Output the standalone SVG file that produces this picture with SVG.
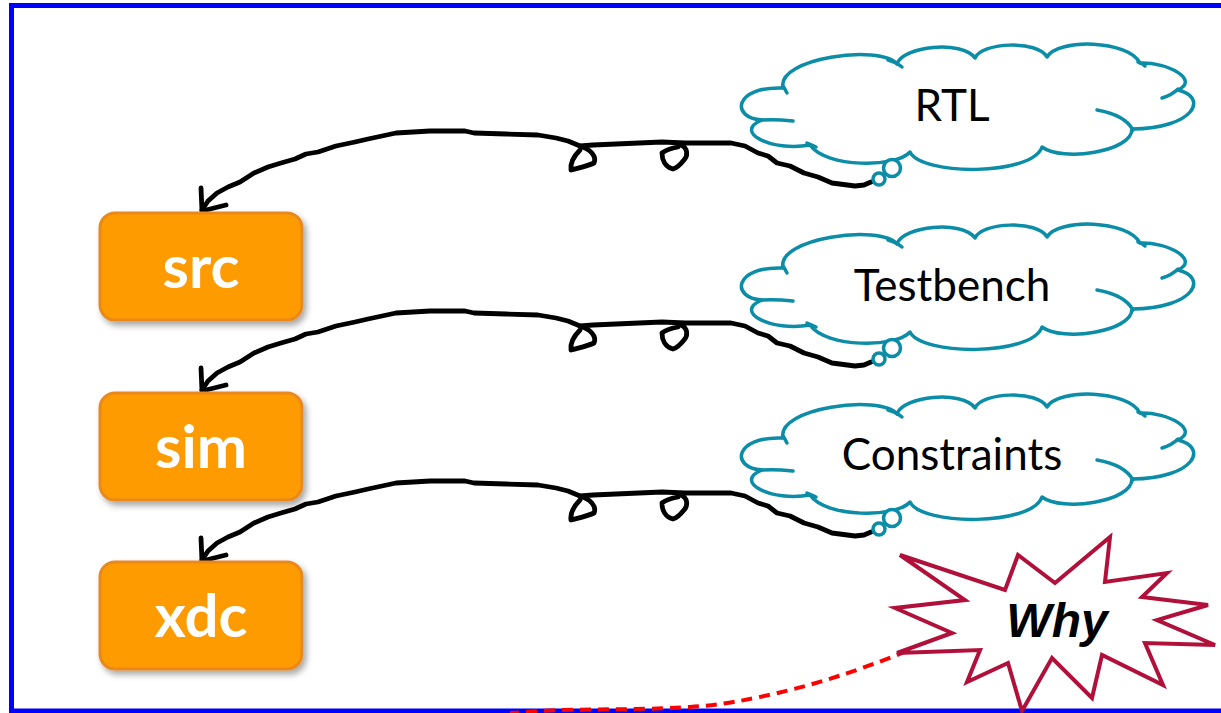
<svg xmlns="http://www.w3.org/2000/svg" xmlns:xlink="http://www.w3.org/1999/xlink" width="1221" height="713" viewBox="0 0 1221 713">
  <style>
    .frame { fill: none; stroke: #0000FF; stroke-width: 5; }
    .box { fill: #FD9B00; stroke: #E9891F; stroke-width: 3; }
    .boxlabel { font-family: Lato, "Open Sans", sans-serif; font-weight: bold; font-size: 60px; fill: #FFFFFF; text-anchor: middle; }
    .cloud { fill: #FFFFFF; stroke: #0B8CA7; stroke-width: 3.5; stroke-linejoin: round; stroke-linecap: round; }
    .cloudline { fill: none; stroke: #0B8CA7; stroke-width: 3.5; stroke-linecap: round; }
    .cloudlabel { font-family: Lato, "Open Sans", sans-serif; font-size: 44px; fill: #000000; text-anchor: middle; }
    .wire { fill: none; stroke: #000000; stroke-width: 4.8; stroke-linejoin: round; stroke-linecap: round; }
    .burst { fill: #FFFFFF; stroke: #B0103A; stroke-width: 4; stroke-linejoin: miter; }
    .burstlabel { font-family: "Liberation Sans", Arial, sans-serif; font-weight: bold; font-style: italic; font-size: 48px; fill: #000000; text-anchor: middle; }
    .dashed { fill: none; stroke: #FF0000; stroke-width: 4; stroke-dasharray: 11 7; }
  </style>
  <defs>
    <filter id="shadow" x="-10%" y="-10%" width="125%" height="130%">
      <feDropShadow dx="3" dy="4" stdDeviation="3" flood-color="#000000" flood-opacity="0.35"/>
    </filter>
    <!-- thought cloud with its two small bubbles -->
    <g id="cloudShape">
      <path class="cloud" d="M783,88 C776,58 880,44 897,64 C903,46 962,40 975,58 C982,42 1038,40 1047,57 C1058,38 1128,40 1140,63 C1168,62 1200,80 1178,90 C1208,97 1196,128 1132,129 C1132,152 1062,162 1042,147 C1032,176 922,176 910,152 C896,168 826,168 810,145 C772,152 732,132 762,120 C730,118 734,86 783,88 Z"/>
      <path class="cloudline" d="M1097,110 Q1125,115 1133,130"/>
      <path class="cloudline" d="M1162,98 Q1172,95 1178,89"/>
      <path class="cloudline" d="M793,121 Q775,119 762,120"/>
      <path class="cloudline" d="M783,86 Q785,89 787,93"/>
      <path class="cloudline" d="M888,60 Q896,62 902,67"/>
      <path class="cloudline" d="M1138,62 Q1142,63 1145,66"/>
      <path class="cloudline" d="M807,143 Q812,145 816,147"/>
      <circle class="cloud" cx="892" cy="168" r="8.5"/>
      <circle class="cloud" cx="879" cy="179" r="6"/>
    </g>
    <!-- hand-drawn wire with two loops and an open arrowhead -->
    <g id="wire">
      <path class="wire" d="M871,182 L864,185 L855,186 L832,183 L818,177 L804,173 L790,166 L777,163 L768,156 L758,153 L745,146 L731,143 L708,143 L685,143 L662,142 L639,143 L616,144 L593,145 L580,146 L568,141 L556,138 L538,135 L506,134 L474,133 L465,131 L430,131 L396,133 L382,136 L368,139 L355,142 L336,146 L318,152 L306,154 L295,159 L281,163 L268,167 L254,173 L240,182 L228,187 L217,193 L208,201 L202,210"/>
      <path class="wire" d="M580,146 C590,149 597,156 594,163 C588,166 578,168 571,170 C570,163 574,156 580,150"/>
      <path class="wire" d="M681,145 C688,148 688,156 684,160 C680,165 677,168 673,169 C665,167 662,160 662,153 C666,150 672,148 678,147"/>
      <path class="wire" d="M201,188 L202,211 L226,205"/>
    </g>
  </defs>

  <rect width="1221" height="713" fill="#FFFFFF"/>
  <rect class="frame" x="11.5" y="5.5" width="1225" height="705.5"/>

  <g id="connectors">
    <use href="#wire"/>
    <use href="#wire" transform="translate(0,180)"/>
    <use href="#wire" transform="translate(0,350)"/>
    <path class="dashed" d="M907,651 C870,666 830,680 790,690 C750,700 720,705 690,707 C640,710 600,709 560,710 C540,711 525,712 510,713"/>
  </g>

  <g id="src">
    <rect class="box" x="100" y="213" width="202" height="107" rx="15" filter="url(#shadow)"/>
    <text class="boxlabel" x="201" y="288">src</text>
  </g>
  <g id="sim">
    <rect class="box" x="100" y="393" width="202" height="107" rx="15" filter="url(#shadow)"/>
    <text class="boxlabel" x="201" y="468">sim</text>
  </g>
  <g id="xdc">
    <rect class="box" x="100" y="562" width="202" height="107" rx="15" filter="url(#shadow)"/>
    <text class="boxlabel" x="201" y="637">xdc</text>
  </g>

  <g id="rtl">
    <use href="#cloudShape"/>
    <text class="cloudlabel" x="952" y="121">RTL</text>
  </g>
  <g id="testbench">
    <use href="#cloudShape" transform="translate(0,180)"/>
    <text class="cloudlabel" x="952" y="301">Testbench</text>
  </g>
  <g id="constraints">
    <use href="#cloudShape" transform="translate(0,350)"/>
    <text class="cloudlabel" x="952" y="470">Constraints</text>
  </g>

  <g id="why">
    <polygon class="burst" points="900,555 1005,590 1018,555 1055,583 1110,537 1105,582 1167,573 1142,597 1208,605 1157,620 1215,645 1145,643 1163,685 1102,655 1092,698 1052,658 1022,711 1008,663 967,682 980,650 897,653 952,633 895,608 965,600"/>
    <text class="burstlabel" x="1057" y="637">Why</text>
  </g>
</svg>
